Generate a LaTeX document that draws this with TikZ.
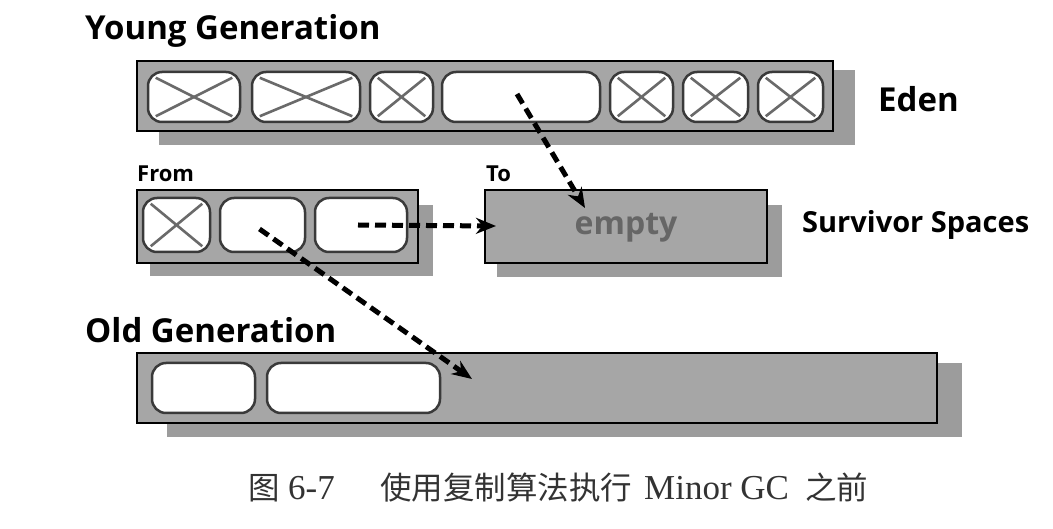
\documentclass[tikz,border=0pt]{standalone}
\usepackage{fontspec}
\setmainfont{Liberation Serif}
\setsansfont{Open Sans}
\newfontfamily\cjk{Noto Sans CJK SC}
\usetikzlibrary{arrows.meta}
\definecolor{boxgray}{HTML}{A6A6A6}
\definecolor{shadowgray}{HTML}{9C9C9C}
\definecolor{celledge}{HTML}{3A3A3A}
\definecolor{crossgray}{HTML}{6A6A6A}
\definecolor{emptygray}{HTML}{666666}
\definecolor{captiongray}{HTML}{333333}
\begin{document}
\begin{tikzpicture}[x=1pt,y=-1pt,
  genbox/.style={fill=boxgray,draw=black,line width=2pt,inner sep=0pt},
  cell/.style={draw=celledge,fill=white,line width=2.5pt,rounded corners=14pt,inner sep=0pt},
  xline/.style={draw=crossgray,line width=2.6pt},
  title/.style={font=\sffamily\bfseries\fontsize{33}{38}\selectfont,inner sep=0pt},
  small/.style={font=\sffamily\bfseries\fontsize{22}{26}\selectfont,inner sep=0pt},
  mover/.style={draw=black,line width=5pt,dash pattern=on 11pt off 6pt,-{Stealth[length=20pt,width=16pt]}},
  captext/.style={inner sep=0pt,text=captiongray,font=\fontsize{31.5}{36}\selectfont,anchor=base west},
  caplatin/.style={inner sep=0pt,text=captiongray,font=\fontsize{35}{40}\selectfont,anchor=base west}
]
\useasboundingbox (0,0) rectangle (1053,529);

% shadows
\fill[shadowgray] (159,70) rectangle (855,145);
\fill[shadowgray] (150,205) rectangle (433,276);
\fill[shadowgray] (497,205) rectangle (782,277);
\fill[shadowgray] (167,363) rectangle (962,437);

% generation boxes
\node[genbox,minimum width=696pt,minimum height=70pt] (eden) at (485,96) {};
\node[genbox,minimum width=281pt,minimum height=73pt] (from) at (277.5,226.5) {};
\node[genbox,minimum width=282pt,minimum height=73pt] (to) at (626,226.5) {};
\node[genbox,minimum width=800pt,minimum height=70pt] (old) at (537,388) {};

% Eden cells
\node[cell,minimum width=92pt,minimum height=50pt] (c1) at (194,97) {};
\node[cell,minimum width=108pt,minimum height=50pt] (c2) at (306,97) {};
\node[cell,minimum width=63pt,minimum height=50pt] (c3) at (401.5,97) {};
\node[cell,minimum width=158pt,minimum height=50pt] (c4) at (521,97) {};
\node[cell,minimum width=63pt,minimum height=50pt] (c5) at (641.5,97) {};
\node[cell,minimum width=65pt,minimum height=50pt] (c6) at (715.5,97) {};
\node[cell,minimum width=65pt,minimum height=50pt] (c7) at (790.5,97) {};

% From cells
\node[cell,minimum width=67pt,minimum height=54pt] (f1) at (176.5,225) {};
\node[cell,minimum width=85pt,minimum height=54pt] (f2) at (262.5,225) {};
\node[cell,minimum width=92pt,minimum height=54pt] (f3) at (361,225) {};

% Old cells
\node[cell,minimum width=103pt,minimum height=50pt] (o1) at (203.5,388) {};
\node[cell,minimum width=173pt,minimum height=50pt] (o2) at (353.5,388) {};

% crosses
\foreach \c in {c1,c2,c3,c5,c6,c7,f1}{
  \draw[xline] ([shift={(9pt,-7pt)}]\c.north west) -- ([shift={(-9pt,7pt)}]\c.south east);
  \draw[xline] ([shift={(9pt,7pt)}]\c.south west) -- ([shift={(-9pt,-7pt)}]\c.north east);
}

% texts
\node[title,anchor=base west] (yg) at (85,40) {Young Generation};
\node[title,anchor=base west] (og) at (85,343) {Old Generation};
\node[title,anchor=base west] (edenlbl) at (878,112) {Eden};
\node[title,font=\sffamily\bfseries\fontsize{29}{34}\selectfont,anchor=base west] (surv) at (802,233) {Survivor Spaces};
\node[small,anchor=base west] (fromlbl) at (137,182) {From};
\node[small,anchor=base west] (tolbl) at (486,182) {To};
\node[font=\sffamily\bfseries\fontsize{32}{36}\selectfont,text=emptygray,inner sep=0pt] (emptylbl) at ([yshift=-1pt]to.center) {empty};

% arrows
\coordinate (t1) at (585,208);
\coordinate (t2) at (496,226);
\coordinate (t3) at (472,379);
\draw[mover] ([shift={(-4pt,3pt)}]c4.center) -- (t1);
\draw[mover] ([xshift=-3pt]f3.center) -- (t2);
\draw[mover] ([xshift=-3pt,yshift=-4pt]f2.center) -- (t3);

% caption
\node[captext] (cap1) at (248,499) {\cjk 图};
\node[caplatin] (cap2) at (288,499) {6-7};
\node[captext] (cap3) at (380,499) {\cjk 使用复制算法执行};
\node[caplatin] (cap4) at (644,499) {Minor GC};
\node[captext] (cap5) at (805,499) {\cjk 之前};
\end{tikzpicture}
\end{document}
